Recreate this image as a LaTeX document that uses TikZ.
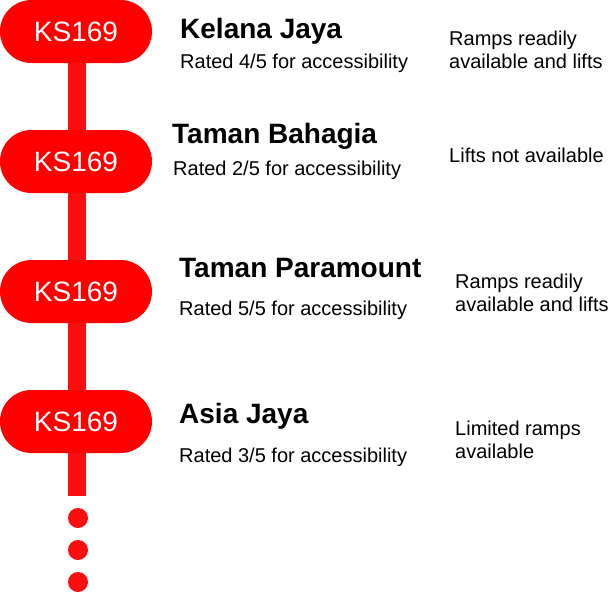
\documentclass[tikz,border=0pt]{standalone}
\usepackage{fontspec}
\setmainfont{Liberation Sans}
\usetikzlibrary{backgrounds}
\definecolor{pillred}{RGB}{255,0,0}
\definecolor{barred}{RGB}{250,14,14}
\tikzset{
  pill/.style={fill=pillred, rounded corners=31.5pt, minimum width=152pt, minimum height=63pt,
    inner sep=0pt, text=white, font=\fontsize{28}{30}\selectfont},
  title/.style={anchor=base west, inner sep=0pt, font=\bfseries\fontsize{28}{30}\selectfont},
  rating/.style={anchor=base west, inner sep=0pt, font=\fontsize{20}{23}\selectfont},
  note/.style={anchor=base west, inner sep=0pt, align=left, font=\fontsize{20}{23.5}\selectfont},
  dot/.style={circle, fill=barred, minimum size=20pt, inner sep=0pt},
}
\begin{document}
\begin{tikzpicture}[x=1pt,y=-1pt]
\useasboundingbox (0,0) rectangle (609,592);
\node[pill] (p1) at (76,31.5) {KS169};
\node[pill] (p2) at (76,161.5) {KS169};
\node[pill] (p3) at (76,291.5) {KS169};
\node[pill] (p4) at (76,421.5) {KS169};
\coordinate (barend) at (77,496);
\begin{scope}[on background layer]
\draw[barred, line width=18pt] (p1.center -| barend) -- (barend);
\end{scope}
\node[dot] (d1) at (78,518) {};
\node[dot] (d2) at (78,550) {};
\node[dot] (d3) at (78,582) {};
\node[title] (t1) at (180,38) {Kelana Jaya};
\node[rating] (r1) at (180,68) {Rated 4/5 for accessibility};
\node[note] (n1) at (449,68.5) {Ramps readily\\available and lifts};
\node[title] (t2) at (172,143) {Taman Bahagia};
\node[rating] (r2) at (173,175) {Rated 2/5 for accessibility};
\node[note] (n2) at (449,162) {Lifts not available};
\node[title] (t3) at (179,277) {Taman Paramount};
\node[rating] (r3) at (179,315) {Rated 5/5 for accessibility};
\node[note] (n3) at (455,311.5) {Ramps readily\\available and lifts};
\node[title] (t4) at (179,423) {Asia Jaya};
\node[rating] (r4) at (179,462) {Rated 3/5 for accessibility};
\node[note] (n4) at (455,458.5) {Limited ramps\\available};
\end{tikzpicture}
\end{document}
